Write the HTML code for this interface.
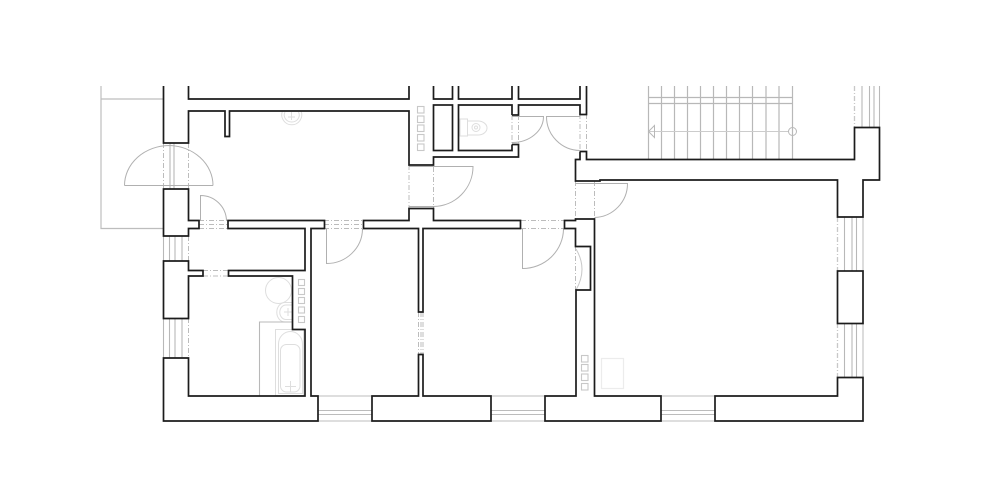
<!DOCTYPE html>
<html>
<head>
<meta charset="utf-8">
<style>
html,body{margin:0;padding:0;background:#fff;width:1000px;height:500px;overflow:hidden}
svg{display:block;filter:blur(.3px)}
</style>
</head>
<body>
<svg width="1000" height="500" viewBox="0 0 1000 500" xmlns="http://www.w3.org/2000/svg">
<rect width="1000" height="500" fill="#fff"/>

<!-- balcony -->
<g fill="none" stroke="#bdbdbd" stroke-width="1.2">
<path d="M101 86V228.5H163M101 99H163"/>
</g>

<!-- stairs -->
<g fill="none" stroke="#b8b8b8" stroke-width="1.2">
<path d="M648.500 86V159.500M661.500 86V159.500M674.500 86V159.500M687.500 86V159.500M700.500 86V159.500M713.500 86V159.500M726.500 86V159.500M739.500 86V159.500M752.500 86V159.500M766 86V159.500M779 86V159.500M792.500 86V159.500"/>
<path d="M648.500 97.500H792.500M648.500 103.500H792.500"/>
<path d="M648.500 131.500H788" stroke="#ccc" stroke-width="1"/>
<circle cx="792.500" cy="131.500" r="4" stroke-width="1"/>
<path d="M648.500 131.500L654.500 125.500V137.500Z" stroke-width="1"/>
</g>

<!-- windows: vertical -->
<g fill="none" stroke="#b8b8b8" stroke-width="1.100">
<path d="M170 143V189M174 143V189"/>
<path d="M163.500 236V261M169.500 236V261M175 236V261M182 236V261"/>
<path d="M163.500 318V358M169.500 318V358M175 318V358M182 318V358"/>
<path d="M844.500 217V271M852 217V271M856.500 217V271"/>
<path d="M844.500 323V377M852 323V377M856.500 323V377"/>
<path d="M862 86V127M869.500 86V127M874 86V127M879.500 86V127"/>
<path d="M863 217V271M863 323V377" stroke="#d0d0d0" stroke-width="1.500"/>
</g>
<!-- windows: horizontal -->
<g fill="none" stroke="#bcbcbc" stroke-width="1.100">
<path d="M318 410.500H372M318 414.500H372"/>
<path d="M491 410.500H545M491 414.500H545"/>
<path d="M661 410.500H715M661 414.500H715"/>
<path d="M318 396H372M318 421H372M491 396H545M491 421H545M661 396H715M661 421H715" stroke="#d4d4d4" stroke-width="1.500"/>
</g>

<!-- dashed opening lines -->
<g fill="none" stroke="#bcbcbc" stroke-width="1" stroke-dasharray="5 2 1 2">
<path d="M163.500 143V189M188.500 143V189"/>
<path d="M188.500 236V261M188.500 318V358"/>
<path d="M199 220.500H228M199 224.500H228M199 228.500H228"/>
<path d="M203 270.500H228M203 276H228"/>
<path d="M324 220.500H363M324 224.500H363M324 228.500H363"/>
<path d="M409 165V208M433.500 157V208"/>
<path d="M512 115V144M518.500 115V144"/>
<path d="M580 114V152M586.500 114V152"/>
<path d="M575.500 181V219M594.500 181V219"/>
<path d="M521 220.500H564M521 228.500H564"/>
<path d="M575.500 246V290"/>
<path d="M418.500 312V354M421 312V354M423 312V354"/>
<path d="M837.500 217V271M837.500 323V377M854.500 86V127" stroke="#c8c8c8" stroke-width="1.300"/>
</g>

<!-- door leaves and arcs -->
<g fill="none" stroke="#b0b0b0" stroke-width="1">
<path d="M124.500 185.500H213"/>
<path d="M124.500 185.500A45 40 0 0 1 169 145.500A45 40 0 0 1 213 185.500"/>
<path d="M200.500 221V195.500A26 26 0 0 1 226.500 220.500"/>
<path d="M326.500 229V263.500A36 35 0 0 0 362.500 229"/>
<path d="M409 166.500H473A40 40 0 0 1 433.500 206.500H409"/>
<path d="M512 116.500H543.500A31 26 0 0 1 512 142.500"/>
<path d="M580 116.500H546.500A34 34 0 0 0 580 150.500"/>
<path d="M575.500 183.500H627.500A34 34 0 0 1 594.500 217.500"/>
<path d="M522.500 229V268.500A41 40 0 0 0 563.500 229"/>
<path d="M576 249Q588 269 576 290" stroke="#c8c8c8"/>
</g>

<!-- fixtures -->
<g fill="none" stroke="#dedede" stroke-width="1">
<path d="M282.500 111A10 10 0 1 0 301 111"/>
<path d="M285 112A7.500 7 0 1 0 298.500 112"/>
<path d="M291.500 112V120M288 117H295"/>
<rect x="460" y="119" width="7.500" height="17"/>
<path d="M467.500 121H478A9 7 0 0 1 478 135H467.500"/>
<circle cx="476" cy="127.500" r="4"/>
<circle cx="476" cy="127.500" r="1.500"/>
<circle cx="278.500" cy="290.500" r="13"/>
<path d="M292 302.500H285A8 9.500 0 0 0 285 322H292"/>
<path d="M292 305H286A6 7 0 0 0 286 319.500H292"/>
<path d="M288 308V316M284 312H292"/>
<rect x="275.500" y="329.500" width="28" height="66"/>
<path d="M278.500 393.500V344A12 12.500 0 0 1 302.500 344V393.500Z"/>
<rect x="280.500" y="344.500" width="19.500" height="47.500" rx="6"/>
<path d="M290.500 381V392M285 386.500H296"/>
<rect x="601.500" y="358.500" width="22" height="30" stroke="#ececec" stroke-width="1.200"/>
</g>
<path d="M259.500 395.500V322H292" fill="none" stroke="#b8b8b8" stroke-width="1.100"/>

<!-- flues -->
<g fill="none" stroke="#c8c8c8" stroke-width="1.100">
<rect x="417.500" y="106.500" width="6.500" height="6.500"/>
<rect x="417.500" y="116" width="6.500" height="6.500"/>
<rect x="417.500" y="125" width="6.500" height="6.500"/>
<rect x="417.500" y="134.500" width="6.500" height="6.500"/>
<rect x="417.500" y="144" width="6.500" height="6.500"/>
<rect x="298.500" y="279.500" width="6" height="6"/>
<rect x="298.500" y="288.500" width="6" height="6"/>
<rect x="298.500" y="297.500" width="6" height="6"/>
<rect x="298.500" y="307" width="6" height="6"/>
<rect x="298.500" y="316.500" width="6" height="6"/>
<rect x="581.500" y="355.500" width="6.500" height="6.500"/>
<rect x="581.500" y="364.500" width="6.500" height="6.500"/>
<rect x="581.500" y="374" width="6.500" height="6.500"/>
<rect x="581.500" y="383.500" width="6.500" height="6.500"/>
</g>

<!-- walls -->
<g fill="none" stroke="#1c1c1c" stroke-width="1.700" stroke-linejoin="miter">
<!-- top-left wall -->
<path d="M163.500 86V143H188.500V111H225V136.500H229.500V111H409V165H433.500V157H518.500V144.500H512"/>
<path d="M188.500 86V99H409V86"/>
<!-- shaft + wc -->
<path d="M433.500 86V99H452.500V86"/>
<rect x="433.500" y="105" width="19" height="45.500"/>
<path d="M458.500 86V99H512V86"/>
<path d="M512 115V105H458.500V150.500H512V144.500"/>
<path d="M518.500 86V99H580V86"/>
<path d="M512 115H518.500V105H580V114.500H586.500V86"/>
<!-- corridor wall + right block -->
<path d="M580 151.500H586.500V159.500H854.500V127.500H879.500V180H863V217H837.500V180H600V181H575.500V159.500H580V151.500"/>
<!-- left piers -->
<path d="M163.500 189H188.500V220.500H199V228.500H188.500V236H163.500Z"/>
<path d="M163.500 261H188.500V270.500H203V276H188.500V318.500H163.500Z"/>
<!-- horizontal partition + bath room -->
<path d="M228 220.500H324.500V228.500H311V396H318V421H163.500V358H188.500V396H305V329.500H292.500V276H228.500V270.500H305V228.500H228Z"/>
<!-- central -->
<path d="M363.500 228.500V220.500H409V208.500H433.500V220.500H520.500V228.500H423V312H418.500V228.500H363.500Z"/>
<path d="M418.500 354.500H423V396H491V421H372V396H418.500Z"/>
<!-- right partition -->
<path d="M564.500 220.500H575.500V219H594.500V396H661V421H545V396H576V290H590.500V246.500H575.500V228.500H564.500Z"/>
<!-- lower right -->
<path d="M715 396H837.500V377.500H863V421H715Z"/>
<rect x="837.500" y="271" width="25.500" height="52.500"/>
</g>
</svg>
</body>
</html>
